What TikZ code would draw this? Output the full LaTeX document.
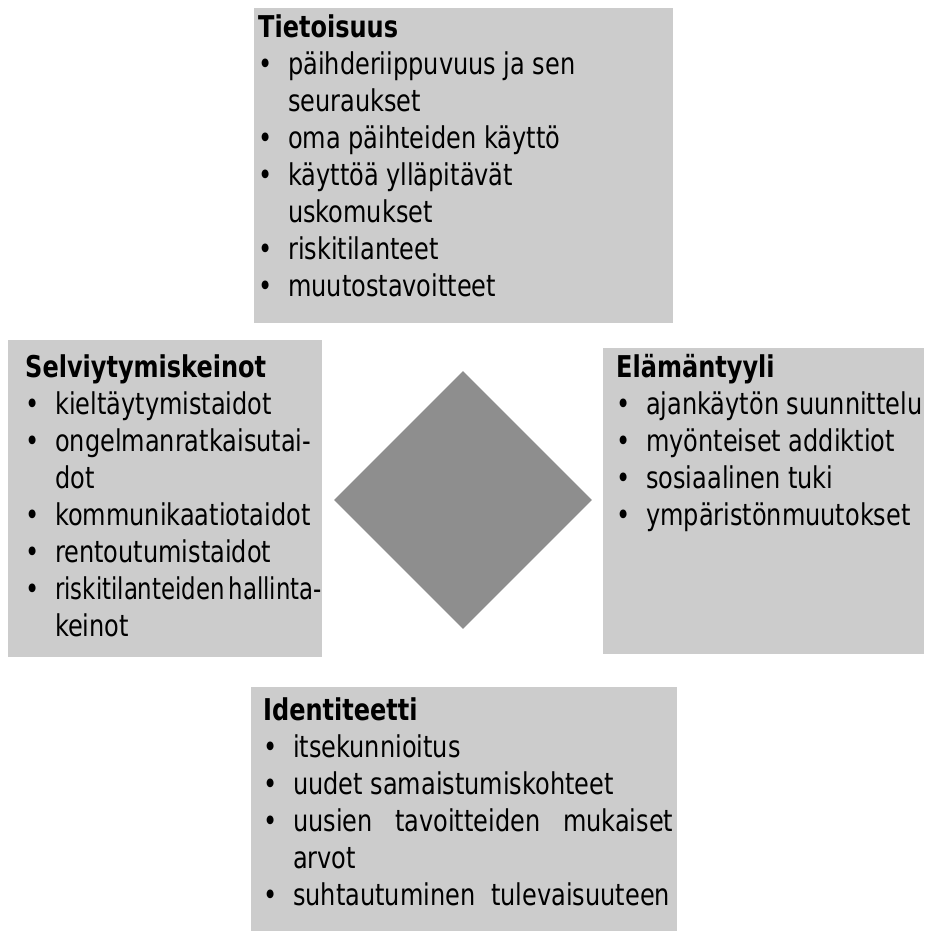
\documentclass[tikz,border=0pt]{standalone}
\usepackage{fontspec}
\usepackage{graphicx}
\setmainfont{DejaVu Sans Condensed}[FakeStretch=0.89]
\usetikzlibrary{shapes.geometric}

\definecolor{boxgray}{HTML}{CCCCCC}
\definecolor{diagray}{HTML}{8E8E8E}

\newcommand{\bul}{\makebox[30pt][l]{\textbullet}}
\newcommand{\jat}{\hspace*{30pt}}

\begin{document}
\begin{tikzpicture}[
    x=1pt, y=-1pt,
    panel/.style={rectangle, fill=boxgray, inner sep=0pt, anchor=north west},
    lista/.style={anchor=base west, align=left, inner sep=0pt, font=\fontsize{30}{37}\selectfont},
    keskus/.style={diamond, fill=diagray, inner sep=0pt, minimum width=258pt, minimum height=258pt}
  ]
  \useasboundingbox (0,0) rectangle (926,931);

  % boxes are placed by their top left corner, texts by their last baseline
  \node[panel, minimum width=419pt, minimum height=315pt] (tieto) at (254,8) {};
  \node[lista] (tieto-txt) at (258,296) {\textbf{Tietoisuus}\\
    \bul päihderiippuvuus ja sen\\
    \jat seuraukset\\
    \bul oma päihteiden käyttö\\
    \bul käyttöä ylläpitävät\\
    \jat uskomukset\\
    \bul riskitilanteet\\
    \bul muutostavoitteet};

  \node[panel, minimum width=314pt, minimum height=317pt] (selv) at (8,340) {};
  \node[lista] (selv-txt) at (25,636) {\textbf{Selviytymiskeinot}\\
    \bul kieltäytymistaidot\\
    \bul ongelmanratkaisutai-\\
    \jat dot\\
    \bul kommunikaatiotaidot\\
    \bul rentoutumistaidot\\
    \bul \scalebox{0.95}[1]{riskitilanteiden\hspace{4pt}hallinta-}\\
    \jat keinot};

  \node[panel, minimum width=321pt, minimum height=306pt] (elam) at (603,348) {};
  \node[lista] (elam-txt) at (616,525) {\textbf{Elämäntyyli}\\
    \bul ajankäytön suunnittelu\\
    \bul myönteiset addiktiot\\
    \bul sosiaalinen tuki\\
    \bul ympäristönmuutokset};

  \node[panel, minimum width=426pt, minimum height=244pt] (ident) at (251,687) {};
  \node[lista] (ident-txt) at (263,905) {\textbf{Identiteetti}\\
    \bul itsekunnioitus\\
    \bul uudet samaistumiskohteet\\
    \bul \makebox[380pt][s]{uusien tavoitteiden mukaiset}\\
    \jat arvot\\
    \bul \makebox[377pt][s]{suhtautuminen tulevaisuuteen}};

  \node[keskus] (keskus) at (463,500) {};

\end{tikzpicture}
\end{document}
